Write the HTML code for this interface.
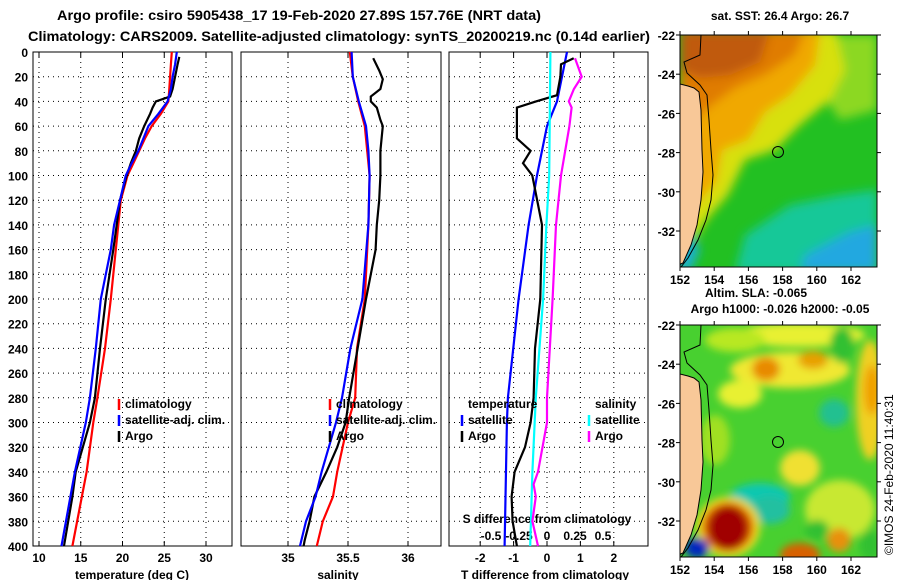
<!DOCTYPE html>
<html><head><meta charset="utf-8"><style>
html,body{margin:0;padding:0;background:#fff;}
svg{display:block;font-family:"Liberation Sans",sans-serif;font-weight:bold;}
</style></head><body>
<svg id="fig" width="900" height="580" viewBox="0 0 900 580" xmlns="http://www.w3.org/2000/svg">
<defs>
<filter id="blur1" x="-20%" y="-20%" width="140%" height="140%"><feGaussianBlur stdDeviation="5"/></filter>
<filter id="blur2" x="-20%" y="-20%" width="140%" height="140%"><feGaussianBlur stdDeviation="4"/></filter>
<clipPath id="clipMap1"><rect x="680" y="35" width="197" height="232"/></clipPath>
<clipPath id="clipMap2"><rect x="680" y="325" width="197" height="232"/></clipPath>
</defs>
<text x="57" y="20" font-size="14" textLength="484" lengthAdjust="spacingAndGlyphs">Argo profile: csiro 5905438_17 19-Feb-2020 27.89S 157.76E (NRT data)</text>
<text x="28" y="41" font-size="14" textLength="622" lengthAdjust="spacingAndGlyphs">Climatology: CARS2009. Satellite-adjusted climatology: synTS_20200219.nc (0.14d earlier)</text>

<!-- Map 1: SST -->
<g>
<text x="780" y="20" font-size="12" text-anchor="middle">sat. SST: 26.4 Argo: 26.7</text>
<g clip-path="url(#clipMap1)">
<rect x="680" y="35" width="197" height="232" fill="#22c022"/>
<g filter="url(#blur1)">
<polygon fill="#8cd820" points="820,35 877,35 877,110 840,120 820,90"/>
<polygon fill="#d8e010" points="680,30 835,30 845,70 830,100 800,125 775,150 745,160 728,195 708,218 692,242 680,250"/>
<polygon fill="#f0a800" points="680,30 820,30 815,65 790,95 765,112 748,140 722,150 716,182 700,200 680,212"/>
<polygon fill="#e07c00" points="680,30 805,30 795,55 765,75 735,88 712,105 695,120 680,120"/>
<polygon fill="#c05a10" points="680,30 770,30 760,62 730,75 700,78 680,70"/>
<polygon fill="#18c898" points="745,235 790,205 840,195 877,190 877,272 735,272"/>
<polygon fill="#20a8e0" points="805,255 850,232 877,225 877,272 800,272"/>
<polygon fill="#1ab0d0" points="678,240 690,232 700,250 690,272 678,272"/>
</g>
<polygon fill="#f8c898" stroke="#000" stroke-width="1" points="676,83 688,86 694,88 699,92 701,110 702,150 703,172 701,200 697,225 691,245 683,263 676,266"/>
<polyline fill="none" stroke="#000" stroke-width="1" points="701,35 700,55 684,62 687,73 700,85 707,95 709,120 711,150 713,175 711,200 706,220 698,240 688,258 681,267"/>
</g>
<rect x="680" y="35" width="197" height="232" fill="none" stroke="#000" stroke-width="1"/>
<circle cx="778" cy="152" r="5.5" fill="none" stroke="#000" stroke-width="1"/>
<g id="map1axes"></g>
</g>
<text x="756" y="297" font-size="12" text-anchor="middle">Altim. SLA: -0.065</text>
<text x="780" y="313" font-size="12" text-anchor="middle">Argo h1000: -0.026 h2000: -0.05</text>

<!-- Map 2: SLA -->
<g>
<g clip-path="url(#clipMap2)">
<rect x="680" y="325" width="197" height="232" fill="#48d030"/>
<g filter="url(#blur2)">
<ellipse cx="800" cy="335" rx="65" ry="12" fill="#e8f030"/>
<ellipse cx="735" cy="340" rx="30" ry="12" fill="#b8e820"/>
<ellipse cx="790" cy="370" rx="60" ry="18" fill="#f0e830"/>
<ellipse cx="766" cy="369" rx="14" ry="12" fill="#e88a00"/>
<ellipse cx="813" cy="360" rx="15" ry="9" fill="#e8a000"/>
<ellipse cx="842" cy="345" rx="12" ry="18" fill="#30c030"/>
<ellipse cx="740" cy="394" rx="22" ry="14" fill="#e8f030"/>
<ellipse cx="870" cy="400" rx="14" ry="60" fill="#f0d020"/>
<ellipse cx="872" cy="390" rx="8" ry="25" fill="#f0a000"/>
<ellipse cx="834" cy="413" rx="15" ry="14" fill="#20c090"/>
<ellipse cx="715" cy="440" rx="15" ry="25" fill="#a0e020"/>
<ellipse cx="800" cy="468" rx="20" ry="18" fill="#f0e030"/>
<ellipse cx="840" cy="510" rx="35" ry="30" fill="#c8e830"/>
<ellipse cx="817" cy="530" rx="12" ry="10" fill="#30c030"/>
<ellipse cx="839" cy="540" rx="12" ry="12" fill="#e89010"/>
<ellipse cx="800" cy="555" rx="20" ry="12" fill="#d86000"/>
<ellipse cx="760" cy="497" rx="30" ry="14" fill="#10c8b0"/>
<ellipse cx="770" cy="510" rx="20" ry="14" fill="#20c0a0"/>
<ellipse cx="728" cy="527" rx="32" ry="30" fill="#f0e020"/>
<ellipse cx="728" cy="527" rx="26" ry="25" fill="#e06000"/>
<ellipse cx="728" cy="528" rx="20" ry="22" fill="#a00000"/>
<ellipse cx="697" cy="548" rx="12" ry="10" fill="#0028c0"/>
<ellipse cx="870" cy="545" rx="10" ry="15" fill="#30c030"/>
</g>
<polygon fill="#f8c898" stroke="#000" stroke-width="1" points="676,373 688,376 694,378 699,382 701,400 702,440 703,462 701,490 697,515 691,535 683,553 676,556"/>
<polyline fill="none" stroke="#000" stroke-width="1" points="701,325 700,345 684,352 687,363 700,375 707,385 709,410 711,440 713,465 711,490 706,510 698,530 688,548 681,557"/>
</g>
<rect x="680" y="325" width="197" height="232" fill="none" stroke="#000" stroke-width="1"/>
<circle cx="778" cy="442" r="5.5" fill="none" stroke="#000" stroke-width="1"/>
<g id="map2axes"></g>
</g>
<text transform="translate(893,555) rotate(-90)" font-size="12" font-weight="normal">©IMOS 24-Feb-2020 11:40:31</text>

<g id="panels"></g>
</svg>
<script>
// ---- data ----
const depthTicks = [0,20,40,60,80,100,120,140,160,180,200,220,240,260,280,300,320,340,360,380,400];
const tempTicks = [10,15,20,25,30];
const salTicks = [35,35.5,36];
const salTickLabels = ["35","35.5","36"];
const tdiffTicks = [-2,-1,0,1,2];
const sdiffTicks = [-0.5,-0.25,0,0.25,0.5];
const sdiffTickLabels = ["-0.5","-0.25","0","0.25","0.5"];

const climTDepth = [0,10,20,30,40,50,60,70,80,90,100,120,140,160,200,240,280,300,340,400];
const climT = [25.9,25.8,25.7,25.6,25.5,24.6,23.5,22.7,22.0,21.3,20.6,19.8,19.5,19.2,18.6,17.9,17.0,16.5,15.7,14.0];
const satTDepth = [0,10,20,30,40,50,60,70,80,90,100,120,140,160,200,240,280,300,340,400];
const satT = [26.5,26.3,26.0,25.8,25.4,24.3,23.1,22.5,21.9,21.1,20.4,19.7,19.0,18.6,17.4,16.8,16.1,15.6,14.3,12.7];
const argoTDepth = [4,10,20,30,36,40,45,50,60,70,80,90,100,120,140,160,200,240,280,300,340,360,380,400];
const argoT = [26.8,26.6,26.3,26.0,25.7,24.0,23.6,23.3,22.6,22.0,21.6,21.0,20.5,19.7,19.3,18.9,18.0,17.3,16.7,16.1,14.4,14.0,13.5,13.0];

const climSDepth = [0,20,40,60,80,100,140,200,240,280,300,340,360,380,400];
const climS = [35.515,35.54,35.585,35.64,35.66,35.68,35.67,35.64,35.575,35.56,35.50,35.41,35.375,35.29,35.24];
const satSDepth = [0,20,40,60,80,100,140,200,240,280,300,340,360,380,400];
const satS = [35.53,35.54,35.59,35.65,35.67,35.68,35.67,35.62,35.52,35.45,35.40,35.28,35.23,35.15,35.10];
const argoSDepth = [5,15,22,30,36,40,45,55,60,70,80,100,120,140,160,200,240,280,300,320,340,360,380,395,400];
const argoS = [35.71,35.76,35.79,35.77,35.69,35.69,35.74,35.77,35.79,35.78,35.77,35.77,35.76,35.74,35.73,35.65,35.58,35.51,35.48,35.41,35.32,35.22,35.18,35.14,35.13];

const satTdDepth = [0,40,60,100,140,200,280,300,400];
const satTd = [0.6,0.3,0.0,-0.3,-0.55,-0.85,-1.17,-1.2,-1.27];
const argoTdDepth = [5,10,20,35,40,45,60,70,80,90,100,140,200,240,280,300,320,340,360,380,400];
const argoTd = [0.8,0.42,0.4,0.3,-0.33,-0.9,-0.9,-0.9,-0.49,-0.72,-0.44,-0.15,-0.2,-0.36,-0.4,-0.49,-0.66,-0.97,-1.06,-1.03,-0.9];
const satSdDepth = [0,100,140,200,280,340,400];
const satSd = [0.03,0.02,-0.005,-0.035,-0.1,-0.13,-0.15];
const argoSdDepth = [5,20,30,40,45,60,100,140,200,280,300,340,350,360,380,400];
const argoSd = [0.25,0.31,0.24,0.195,0.22,0.2,0.125,0.08,0.05,0.0,0.0,-0.08,-0.12,-0.1,-0.13,-0.08];

const lonTicks = [152,154,156,158,160,162];
const latTicks = [-22,-24,-26,-28,-30,-32];

// ---- axes ----
const TOP=52, BOT=546;
const dy = d => TOP + d*(BOT-TOP)/400;
const tx = t => 39 + (t-10)*8.35;
const sx = s => 288 + (s-35)*120;
const dtx = v => 547 + v*33.4;
const dsx = v => 547 + v*112;
const mx = lon => 680 + (lon-152)*17.1;
const my = (lat,off) => 35 + off + (-22-lat)*19.6;

const NS="http://www.w3.org/2000/svg";
const root=document.getElementById('panels');
function mk(tag,attrs,parent){const e=document.createElementNS(NS,tag);for(const k in attrs)e.setAttribute(k,attrs[k]);(parent||root).appendChild(e);return e;}
function txt(x,y,s,size,anchor,parent){const e=mk('text',{x:x,y:y,'font-size':size,'text-anchor':anchor||'start'},parent);e.textContent=s;return e;}

const panels=[[33,232],[241,441],[449,648]];
panels.forEach((p,i)=>{
  const g=mk('g',{});
  
  
  depthTicks.forEach(d=>{ if(d>0&&d<400){const l=mk('line',{x1:p[0],x2:p[1],y1:dy(d),y2:dy(d),stroke:'#000','stroke-width':1,'stroke-dasharray':'1,4'},g);
     }});
  const r=mk('rect',{x:p[0],y:TOP,width:p[1]-p[0],height:BOT-TOP,fill:'none',stroke:'#000','stroke-width':1},g);
   
});
function vgrid(xs,fn){xs.forEach(v=>{const X=fn(v);
  const l=mk('line',{x1:X,x2:X,y1:TOP,y2:BOT,stroke:'#000','stroke-width':1,'stroke-dasharray':'1,4'});
   
  mk('line',{x1:X,x2:X,y1:TOP,y2:TOP+5,stroke:'#000'}); mk('line',{x1:X,x2:X,y1:BOT,y2:BOT-5,stroke:'#000'});});}
vgrid(tempTicks,tx); vgrid(salTicks,sx); vgrid(tdiffTicks,dtx);

depthTicks.forEach(d=>{const t=txt(28,dy(d)+5,String(d),12,'end');
   });
tempTicks.forEach(v=>{const t=txt(tx(v),562,String(v),12,'middle');
   });
salTicks.forEach((v,i)=>{const t=txt(sx(v),562,salTickLabels[i],12,'middle');
   });
tdiffTicks.forEach(v=>{const t=txt(dtx(v),562,String(v),12,'middle');
   });
sdiffTicks.forEach((v,i)=>{const t=txt(dsx(v),540,sdiffTickLabels[i],12,'middle');
   });
let at;
at=txt(132,579,'temperature (deg C)',12,'middle');  
at=txt(338,579,'salinity',12,'middle');  
at=txt(545,579,'T difference from climatology',12,'middle');  
at=txt(547,523,'S difference from climatology',12,'middle');  

function series(ds,vs,fx,color,name){
  const pts=ds.map((d,i)=>fx(vs[i]).toFixed(1)+','+dy(d).toFixed(1)).join(' ');
  const l=mk('polyline',{points:pts,fill:'none',stroke:color,'stroke-width':2.2});
   
}
series(climTDepth,climT,tx,'#ff0000','climatology-temperature-line');
series(argoTDepth,argoT,tx,'#000000','argo-temperature-line');
series(satTDepth,satT,tx,'#0000ff','satellite-temperature-line');
series(climSDepth,climS,sx,'#ff0000','climatology-salinity-line');
series(argoSDepth,argoS,sx,'#000000','argo-salinity-line');
series(satSDepth,satS,sx,'#0000ff','satellite-salinity-line');
series(satTdDepth,satTd,dtx,'#0000ff','satellite-t-diff-line');
series(argoTdDepth,argoTd,dtx,'#000000','argo-t-diff-line');
series(satSdDepth,satSd,dsx,'#00ffff','satellite-s-diff-line');
series(argoSdDepth,argoSd,dsx,'#ff00ff','argo-s-diff-line');

function legend(x,y,color,label){
  const g=mk('g',{});
   
  mk('line',{x1:x,x2:x,y1:y-9,y2:y+2,stroke:color,'stroke-width':2.5},g);
  txt(x+6,y,label,12,'start',g);
}
legend(119,408,'#ff0000','climatology'); legend(119,424,'#0000ff','satellite-adj. clim.'); legend(119,440,'#000','Argo');
legend(330,408,'#ff0000','climatology'); legend(330,424,'#0000ff','satellite-adj. clim.'); legend(330,440,'#000','Argo');
at=txt(468,408,'temperature',12);  
at=txt(595,408,'salinity',12);  
legend(462,424,'#0000ff','satellite'); legend(462,440,'#000','Argo');
legend(589,424,'#00ffff','satellite'); legend(589,440,'#ff00ff','Argo');

// map axes
[[document.getElementById('map1axes'),0,267],[document.getElementById('map2axes'),290,557]].forEach(([g,off,bot])=>{
  lonTicks.forEach(v=>{const X=mx(v);
    mk('line',{x1:X,x2:X,y1:35+off,y2:35+off-4,stroke:'#000'},g);
    mk('line',{x1:X,x2:X,y1:bot,y2:bot+4,stroke:'#000'},g);
    const t=txt(X,bot+17,String(v),12,'middle',g);
     });
  latTicks.forEach(v=>{const Y=my(v,off);
    mk('line',{x1:680,x2:676,y1:Y,y2:Y,stroke:'#000'},g);
    mk('line',{x1:877,x2:881,y1:Y,y2:Y,stroke:'#000'},g);
    const t=txt(675,Y+5,String(v),12,'end',g);
     });
});
</script>
</body></html>
